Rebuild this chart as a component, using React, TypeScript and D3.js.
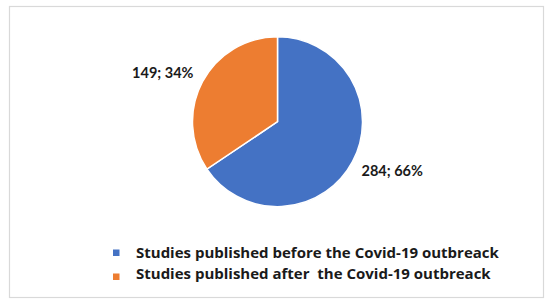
import React from 'react';
import * as d3 from 'd3';

// pie data
const categories = [
  'Studies published before the Covid-19 outbreack',
  'Studies published after  the Covid-19 outbreack'
];
const counts = [284, 149];
const percents = [66, 34];
const colors = ['#4472c4', '#ed7d31'];

const settings = {
  width: 550,
  height: 308,
  cx: 277.5,
  cy: 121.7,
  radius: 85,
  labelRx: 130,
  labelRy: 104
};

const labelFont = "Lato, 'Open Sans', sans-serif";
const legendFont = "'Open Sans', Lato, sans-serif";

export default function App() {
  const { width, height, cx, cy, radius, labelRx, labelRy } = settings;

  const pie = d3.pie<number>().sort(null).value((d) => d);
  const slices = pie(counts);
  const arc = d3.arc<d3.PieArcDatum<number>>().innerRadius(0).outerRadius(radius);

  const legendY = d3.scaleBand<number>()
    .domain(d3.range(categories.length))
    .range([242, 284]);

  return (
    <svg
      width={width}
      height={height}
      style={{ position: 'fixed', left: 0, top: 0, background: '#fff' }}
    >
      <rect x={0} y={0} width={width} height={height} fill="#fff" />
      {/* outer frame */}
      <rect x={9.5} y={6.5} width={534} height={291} fill="none" stroke="#d9d9d9" strokeWidth={1.2} />

      <g transform={`translate(${cx},${cy})`}>
        {slices.map((s, i) => (
          <path key={i} d={arc(s) || ''} fill={colors[i]} stroke="#fff" strokeWidth={1.5} />
        ))}
        {slices.map((s, i) => {
          const a = (s.startAngle + s.endAngle) / 2;
          const x = Math.sin(a) * labelRx;
          const y = -Math.cos(a) * labelRy;
          return (
            <text
              key={'l' + i}
              x={x}
              y={y}
              dy="0.36em"
              textAnchor="middle"
              fontFamily={labelFont}
              fontWeight="bold"
              fontSize={14.5}
              fill="#1a1a1a"
            >
              {counts[i]}; {percents[i]}%
            </text>
          );
        })}
      </g>

      {/* legend */}
      {categories.map((c, i) => {
        const y = (legendY(i) || 0) + legendY.bandwidth() / 2;
        return (
          <g key={'g' + i}>
            <rect x={113} y={y - 3 + (i === 1 ? 3 : 0)} width={6.5} height={6.5} fill={colors[i]} />
            <text
              x={136}
              y={y}
              dy="0.36em"
              fontFamily={legendFont}
              fontWeight="bold"
              fontSize={15}
              fill="#1a1a1a"
              style={{ whiteSpace: 'pre' }}
            >
              {c}
            </text>
          </g>
        );
      })}
    </svg>
  );
}
